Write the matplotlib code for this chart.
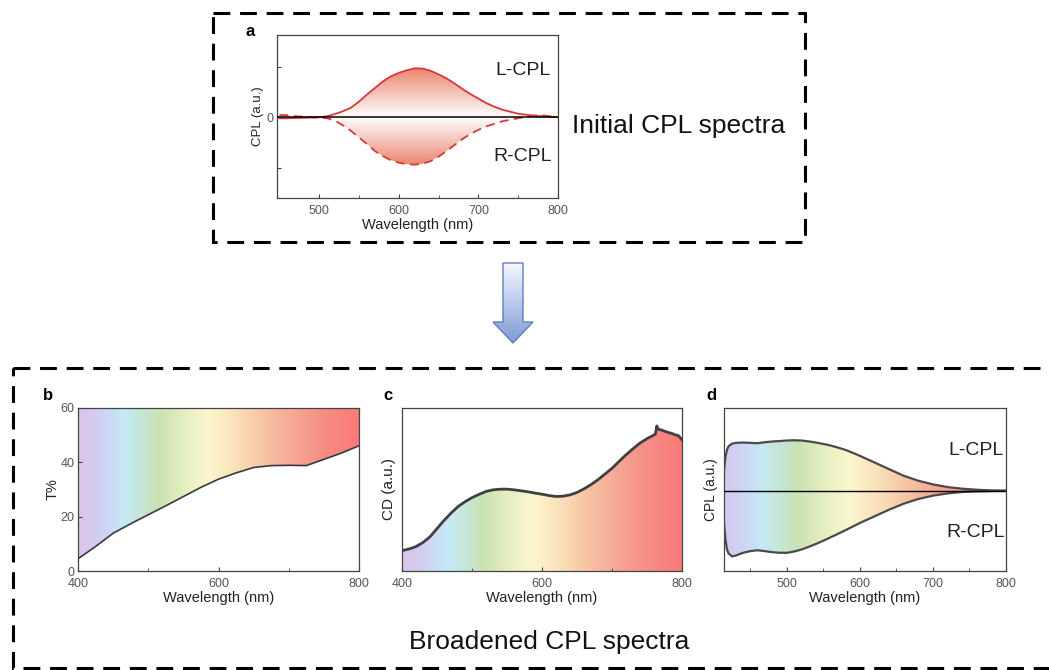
import numpy as np
import matplotlib
matplotlib.use("Agg")
import matplotlib.pyplot as plt
from matplotlib.colors import LinearSegmentedColormap
from matplotlib.patches import Rectangle, Polygon

plt.rcParams['font.family'] = ['Liberation Sans', 'DejaVu Sans']

# ---- data ----
# a: initial CPL spectra
wl_a = [450, 460, 470, 480, 490, 500, 510, 520, 530, 540, 550, 560, 570, 580, 590, 600,
        610, 620, 630, 640, 650, 660, 670, 680, 690, 700, 710, 720, 730, 740, 750, 760,
        770, 780, 790, 800]
lcpl_a = [-0.02, -0.02, -0.015, -0.01, -0.005, 0.0, 0.02, 0.065, 0.12, 0.19, 0.31, 0.45,
          0.58, 0.71, 0.81, 0.88, 0.93, 0.97, 0.965, 0.92, 0.85, 0.77, 0.67, 0.56, 0.46,
          0.37, 0.28, 0.21, 0.15, 0.11, 0.07, 0.05, 0.03, 0.02, 0.01, 0.0]
rcpl_a = [0.045, 0.04, 0.02, 0.01, 0.0, -0.01, -0.02, -0.07, -0.16, -0.27, -0.4, -0.53,
          -0.67, -0.77, -0.85, -0.9, -0.93, -0.94, -0.92, -0.87, -0.78, -0.67, -0.55, -0.43,
          -0.33, -0.25, -0.18, -0.13, -0.08, -0.05, -0.02, 0.01, 0.035, 0.04, 0.02, 0.0]

# b: transmittance
wl_b = [400, 425, 450, 475, 500, 525, 550, 575, 600, 625, 650, 675, 700, 725, 750, 775, 800]
t_b = [4.5, 9.0, 13.9, 17.4, 20.7, 24.0, 27.4, 30.8, 33.8, 36.1, 38.1, 38.8, 38.9, 38.8,
       41.1, 43.4, 46.1]

# c: CD spectrum (a.u.)
wl_c = [400, 410, 420, 430, 440, 450, 460, 470, 480, 490, 500, 510, 520, 530, 540, 550, 560,
        570, 580, 590, 600, 610, 620, 630, 640, 650, 660, 670, 680, 690, 700, 710, 720, 730,
        740, 750, 758, 762, 764, 766, 770, 775, 780, 785, 790, 795, 800]
cd_c = [0.125, 0.135, 0.15, 0.175, 0.21, 0.26, 0.31, 0.355, 0.395, 0.425, 0.45, 0.47, 0.488,
        0.498, 0.502, 0.502, 0.498, 0.492, 0.486, 0.478, 0.471, 0.463, 0.457, 0.459, 0.467,
        0.482, 0.504, 0.53, 0.56, 0.595, 0.63, 0.672, 0.713, 0.75, 0.785, 0.812, 0.83, 0.84,
        0.89, 0.87, 0.866, 0.858, 0.85, 0.845, 0.836, 0.83, 0.805]

# d: broadened CPL spectra
wl_d = [414, 416, 418, 420, 425, 430, 440, 450, 460, 470, 480, 490, 500, 510, 520, 530, 540,
        550, 560, 570, 580, 590, 600, 620, 640, 660, 680, 700, 720, 740, 760, 780, 800]
lcpl_d = [0.25, 0.42, 0.5, 0.545, 0.58, 0.59, 0.594, 0.59, 0.586, 0.598, 0.607, 0.612, 0.619,
          0.622, 0.619, 0.608, 0.594, 0.577, 0.557, 0.532, 0.504, 0.468, 0.43, 0.348, 0.266,
          0.184, 0.123, 0.078, 0.045, 0.025, 0.012, 0.004, 0.0]
rcpl_d = [-0.4, -0.6, -0.72, -0.77, -0.81, -0.8, -0.766, -0.745, -0.734, -0.745, -0.758,
          -0.765, -0.766, -0.75, -0.725, -0.692, -0.656, -0.616, -0.574, -0.532, -0.488,
          -0.443, -0.398, -0.316, -0.234, -0.16, -0.102, -0.061, -0.033, -0.016, -0.008,
          -0.004, 0.0]

# ---- styles ----
rainbow_stops = [(400, (220, 195, 235)), (430, (208, 208, 242)), (465, (196, 233, 245)),
                 (490, (198, 230, 215)), (515, (202, 226, 178)), (550, (228, 238, 192)),
                 (585, (252, 246, 207)), (620, (250, 228, 188)), (655, (248, 203, 168)),
                 (700, (245, 172, 152)), (750, (245, 142, 132)), (800, (250, 122, 122))]
rainbow = LinearSegmentedColormap.from_list(
    'rainbow_soft', [((w - 400) / 400, tuple(c / 255 for c in rgb)) for w, rgb in rainbow_stops])
red_grad = LinearSegmentedColormap.from_list('redgrad', ['#ffffff', '#e98068'])
arrow_grad = LinearSegmentedColormap.from_list('arrowgrad', ['#f4f7ff', '#7d9bd6'])

tick_col = '#555555'
spine_col = '#444444'

W, H = 1049, 670
fig = plt.figure(figsize=(W / 100, H / 100), dpi=100)


def add_ax(x0, y0, x1, y1):
    # pixel box -> figure fraction
    return fig.add_axes([x0 / W, 1 - y1 / H, (x1 - x0) / W, (y1 - y0) / H])


def style(ax):
    for s in ax.spines.values():
        s.set_color(spine_col)
        s.set_linewidth(0.9)
    ax.tick_params(which='both', direction='in', colors=spine_col, labelcolor=tick_col,
                   labelsize=9, pad=2.5)
    ax.tick_params(axis='x', which='both', pad=5)
    ax.tick_params(which='major', length=3)
    ax.tick_params(which='minor', length=2)


def gradient_fill(ax, poly, extent, vertical=False):
    if vertical:
        ys = np.linspace(extent[3], extent[2], 300)
        img = np.abs(ys)[:, None] * np.ones((1, 2))
        im = ax.imshow(img, extent=extent, aspect='auto', cmap=red_grad, vmin=0, vmax=1.0,
                       zorder=1, interpolation='bilinear')
    else:
        img = np.linspace(0, 1, 400)[None, :]
        im = ax.imshow(img, extent=extent, aspect='auto', cmap=rainbow, vmin=0, vmax=1,
                       zorder=1, interpolation='bilinear')
    im.set_clip_path(poly.get_paths()[0], transform=ax.transData)


# ---- overlay for boxes and arrow ----
ov = fig.add_axes([0, 0, 1, 1], zorder=-1)
box_style = dict(fill=False, edgecolor='black', linewidth=2.2, linestyle=(0, (5.5, 3.2)))
ov.add_patch(Rectangle((213, 13), 592, 229, **box_style))
ov.add_patch(Rectangle((13, 368), 1060, 300, clip_on=False, **box_style))

arrow_pts = [(503, 263), (523, 263), (523, 322), (533, 322), (513, 343), (493, 322), (503, 322)]
arrow = Polygon(arrow_pts, closed=True, facecolor='none', edgecolor='#5f7fbf', linewidth=1.0,
                zorder=3)
ov.add_patch(arrow)
aim = ov.imshow(np.linspace(0, 1, 100)[:, None], extent=[493, 533, 343, 263], aspect='auto',
                cmap=arrow_grad, zorder=2, interpolation='bilinear')
aim.set_clip_path(arrow)
ov.set_xlim(0, W)
ov.set_ylim(H, 0)
ov.axis('off')

ov.text(572, 126, 'Initial CPL spectra', fontsize=19, va='center', ha='left', color='#111111')
ov.text(549, 642, 'Broadened CPL spectra', fontsize=19, va='center', ha='center',
        color='#111111')
for lab, (x, y) in {'a': (250, 31), 'b': (48, 395), 'c': (388, 395), 'd': (711, 395)}.items():
    ov.text(x, y, lab, fontsize=12, fontweight='bold', ha='center', va='center')

# ---- panel a ----
ax = add_ax(277, 35, 558, 198)
style(ax)
poly = ax.fill_between(wl_a, lcpl_a, rcpl_a, facecolor='none', edgecolor='none')
gradient_fill(ax, poly, [447, 800, -1.6, 1.63], vertical=True)
ax.plot(wl_a, lcpl_a, color='#d8393a', lw=1.3, zorder=3)
ax.plot(wl_a, rcpl_a, color='#d8393a', lw=1.3, ls=(0, (5, 3)), zorder=3)
ax.axhline(0, color='black', lw=1.1, zorder=4)
ax.set_xlim(447, 800)
ax.set_ylim(-1.6, 1.63)
ax.set_xticks([500, 600, 700, 800])
ax.set_xticks([550, 650, 750], minor=True)
ax.set_yticks([-1, 0, 1])
ax.set_yticklabels(['', '0', ''])
ax.set_xlabel('Wavelength (nm)', fontsize=10.5, labelpad=1, color='#222222')
ax.set_ylabel('CPL (a.u.)', fontsize=9.5, labelpad=2, color='#222222')
ax.text(756, 0.92, 'L-CPL', fontsize=14, ha='center', va='center', color='#222222', zorder=5)
ax.text(756, -0.78, 'R-CPL', fontsize=14, ha='center', va='center', color='#222222', zorder=5)

# ---- panel b ----
ax = add_ax(78, 408, 359, 571)
style(ax)
poly = ax.fill_between(wl_b, t_b, 60, facecolor='none', edgecolor='none')
gradient_fill(ax, poly, [400, 800, 0, 60])
ax.plot(wl_b, t_b, color='#3a3a3a', lw=1.2, zorder=3)
ax.set_xlim(400, 800)
ax.set_ylim(0, 60)
ax.set_xticks([400, 600, 800])
ax.set_xticks([500, 700], minor=True)
ax.set_yticks([0, 20, 40, 60])
ax.set_xlabel('Wavelength (nm)', fontsize=10.5, labelpad=1, color='#222222')
ax.set_ylabel('T%', fontsize=10.5, labelpad=1, color='#222222')

# ---- panel c ----
ax = add_ax(402, 408, 682, 571)
style(ax)
poly = ax.fill_between(wl_c, 0, cd_c, facecolor='none', edgecolor='none')
gradient_fill(ax, poly, [400, 800, 0, 1])
ax.plot(wl_c, cd_c, color='#404040', lw=2.0, zorder=3)
ax.set_xlim(400, 800)
ax.set_ylim(0, 1)
ax.set_xticks([400, 600, 800])
ax.set_xticks([500, 700], minor=True)
ax.set_yticks([])
ax.set_xlabel('Wavelength (nm)', fontsize=10.5, labelpad=1, color='#222222')
ax.set_ylabel('CD (a.u.)', fontsize=11, labelpad=4, color='#222222')

# ---- panel d ----
ax = add_ax(724, 408, 1006, 571)
style(ax)
poly = ax.fill_between(wl_d, rcpl_d, lcpl_d, facecolor='none', edgecolor='none')
gradient_fill(ax, poly, [400, 800, -1, 1])
ax.plot(wl_d, lcpl_d, color='#4a4a4a', lw=1.6, zorder=3)
ax.plot(wl_d, rcpl_d, color='#4a4a4a', lw=1.6, zorder=3)
ax.axhline(0, color='black', lw=1.0, zorder=4)
ax.set_xlim(414, 800)
ax.set_ylim(-0.99, 1.02)
ax.set_xticks([500, 600, 700, 800])
ax.set_xticks([450, 550, 650, 750], minor=True)
ax.set_yticks([])
ax.set_xlabel('Wavelength (nm)', fontsize=10.5, labelpad=1, color='#222222')
ax.set_ylabel('CPL (a.u.)', fontsize=10, labelpad=4, color='#222222')
ax.text(759, 0.5, 'L-CPL', fontsize=14, ha='center', va='center', color='#222222', zorder=5)
ax.text(759, -0.52, 'R-CPL', fontsize=14, ha='center', va='center', color='#222222', zorder=5)

fig.savefig('out.png', dpi=100)
